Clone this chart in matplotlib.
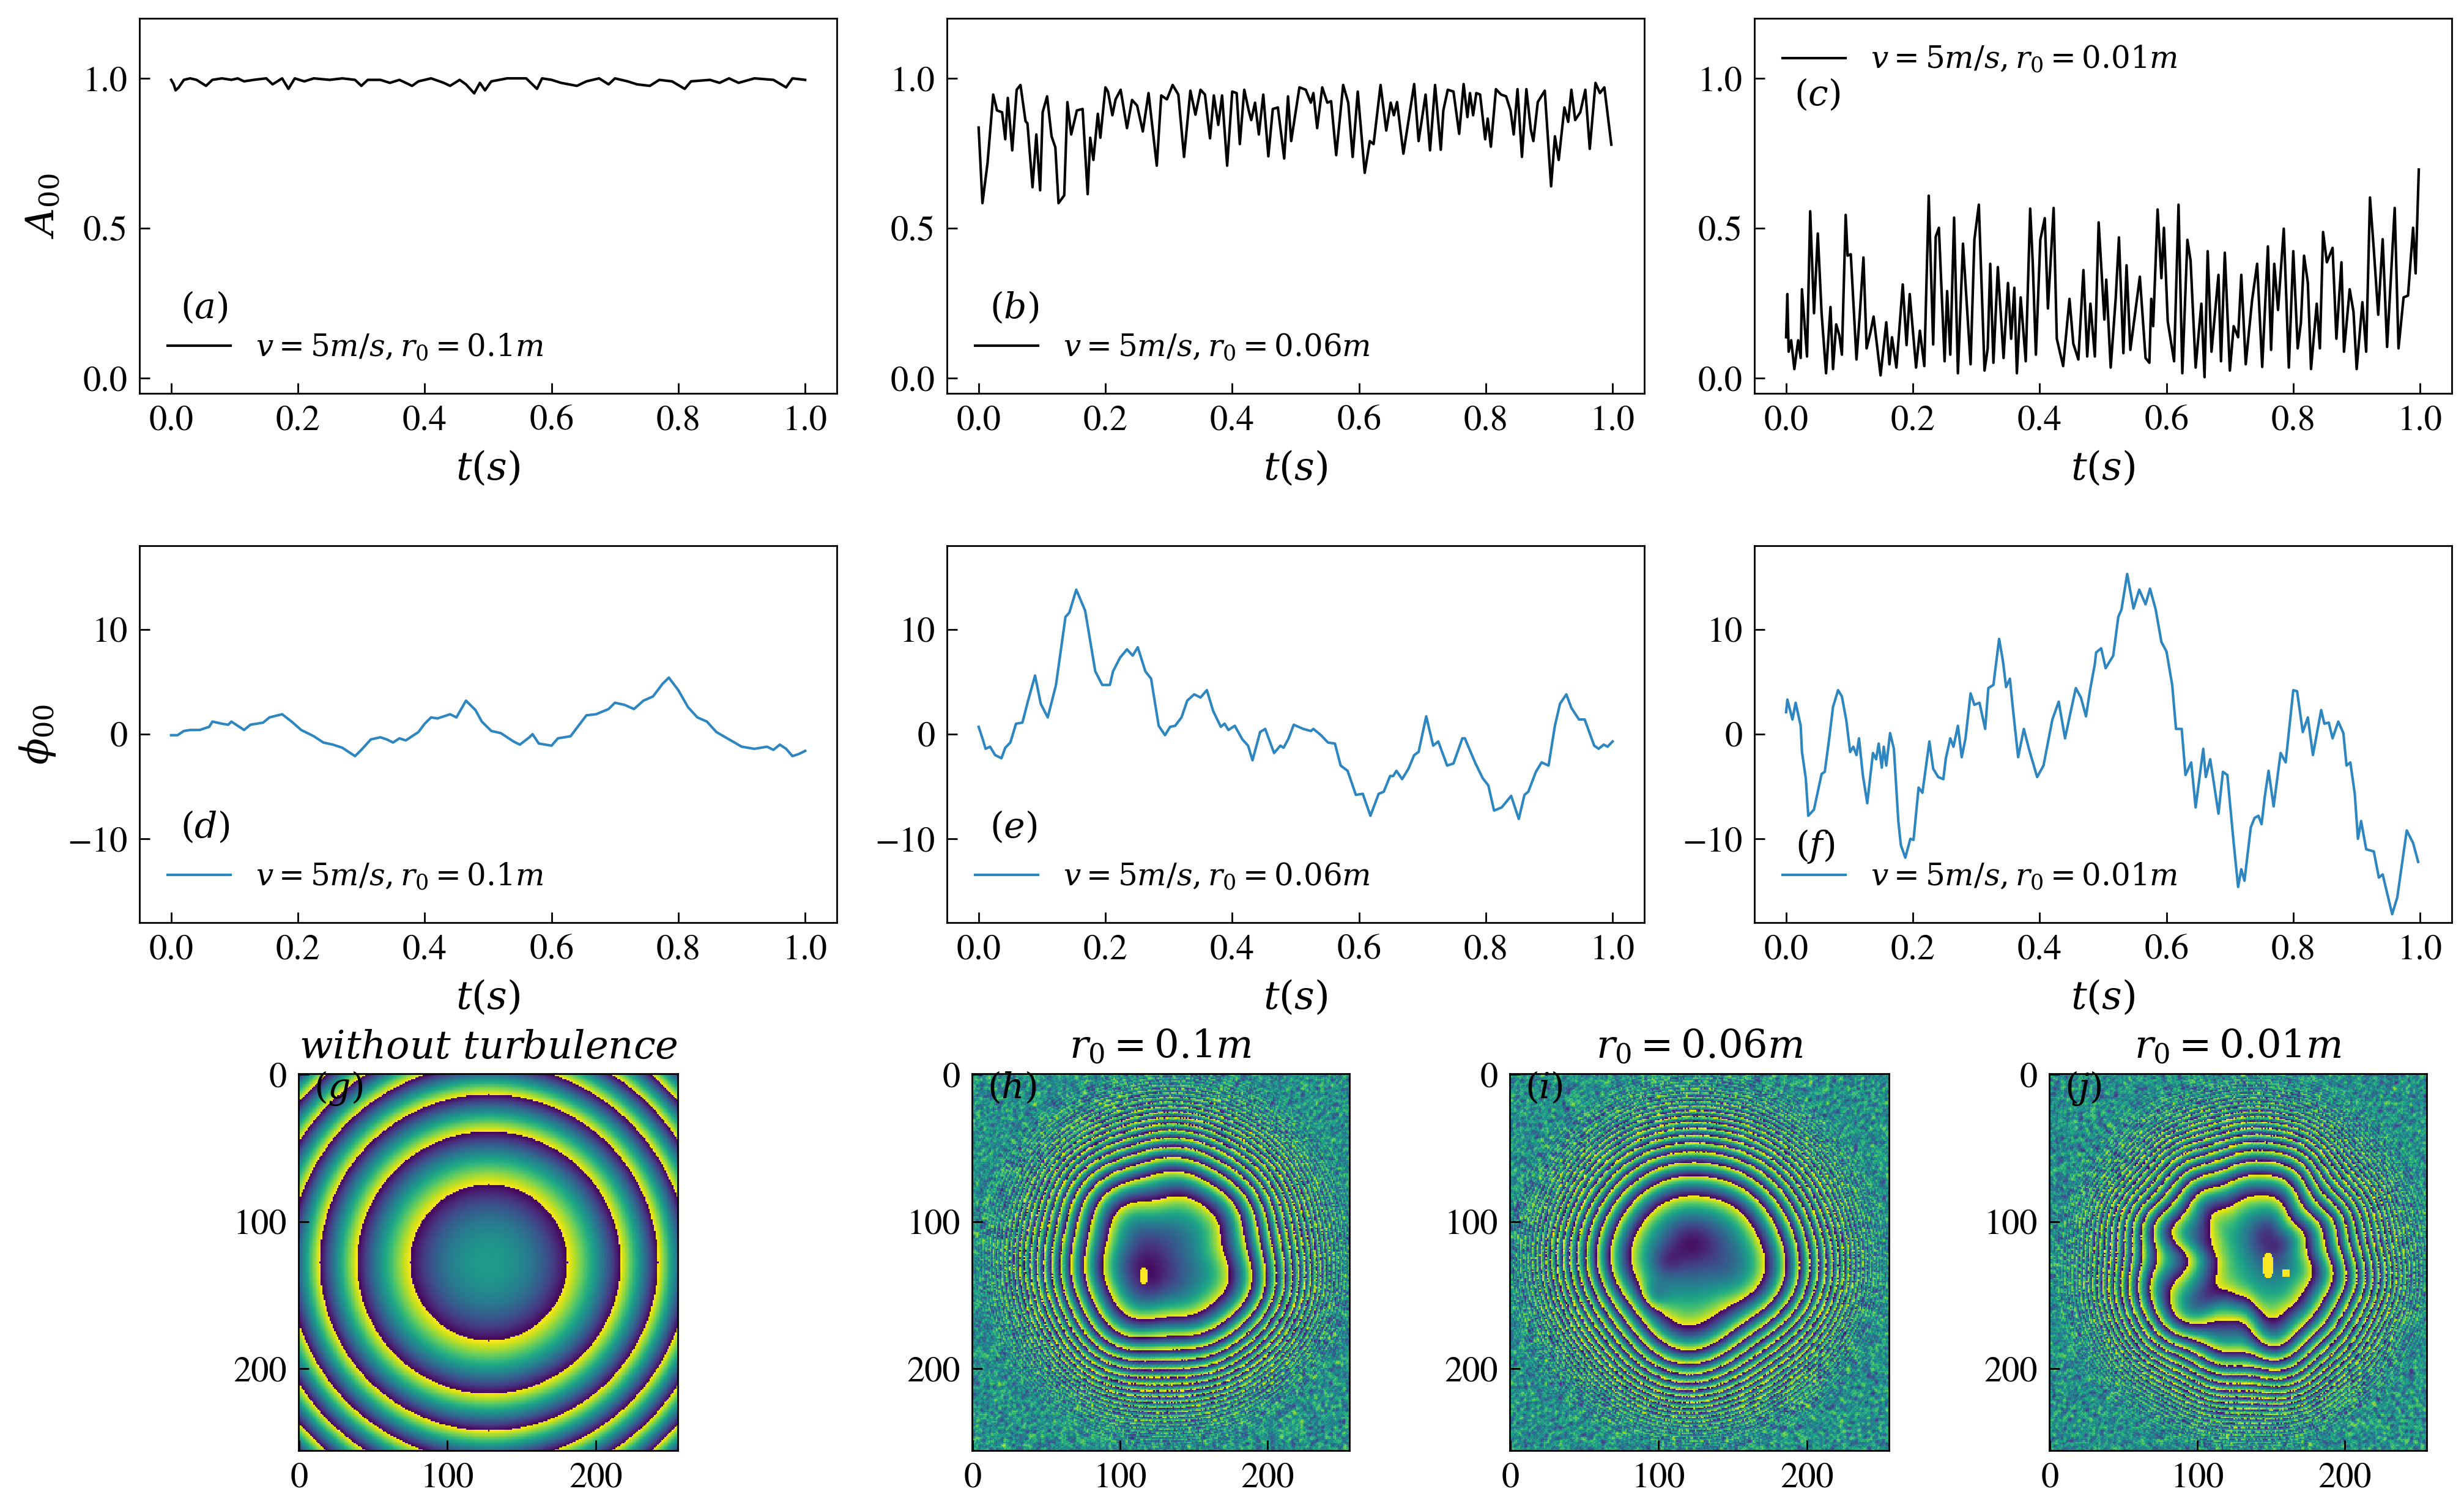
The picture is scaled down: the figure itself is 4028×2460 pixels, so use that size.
import matplotlib
matplotlib.use("Agg")
import matplotlib.pyplot as plt
import numpy as np

plt.rcParams['font.family'] = ['STIXGeneral', 'DejaVu Serif']
plt.rcParams['mathtext.fontset'] = 'dejavuserif'

# values, one (t, y) list per panel
t_a = [0, .004, .007, .012, .02, .03, .04, .055, .065, .08, .095, .105, .115, .13, .15, .16, .175, .185, .195, .21, .225, .25, .27, .29, .3, .31, .33, .345, .36, .38, .39, .41, .43, .44, .455, .465, .478, .487, .495, .505, .53, .56, .577, .585, .6, .615, .64, .655, .675, .69, .7, .72, .735, .755, .77, .79, .81, .82, .85, .865, .88, .895, .92, .95, .97, .98, 1.0]
y_a = [.995, .98, .96, .97, .995, 1.0, .995, .975, .995, 1.0, .995, 1.0, .99, .995, 1.0, .98, 1.0, .965, 1.0, .99, 1.0, .995, 1.0, .995, .975, .995, .995, .985, .995, .975, .99, 1.0, .985, .975, .995, .98, .95, .985, .96, .99, 1.0, 1.0, .965, 1.0, .995, .985, .975, .99, 1.0, .98, 1.0, .99, .98, .975, .995, .99, .965, .99, .995, .985, 1.0, .985, 1.0, .995, .97, 1.0, .995]

t_b = [0, .006, .014, .023, .029, .037, .042, .046, .053, .06, .066, .074, .077, .085, .091, .097, .101, .108, .115, .121, .126, .135, .14, .146, .155, .164, .172, .176, .181, .188, .192, .2, .204, .211, .216, .224, .234, .242, .25, .259, .268, .281, .288, .297, .306, .315, .324, .334, .342, .35, .357, .365, .371, .378, .384, .392, .4, .407, .412, .419, .426, .43, .436, .442, .449, .457, .464, .472, .482, .488, .493, .506, .516, .524, .528, .534, .542, .55, .556, .564, .575, .583, .59, .598, .609, .617, .623, .634, .643, .65, .655, .66, .67, .687, .694, .705, .712, .72, .729, .733, .74, .749, .758, .765, .771, .775, .78, .785, .791, .799, .803, .808, .816, .824, .832, .839, .844, .85, .857, .864, .871, .875, .882, .893, .903, .909, .915, .924, .93, .935, .941, .949, .957, .964, .973, .98, .987, .998]
y_b = [.836, .584, .717, .946, .893, .887, .797, .935, .76, .962, .978, .857, .85, .637, .813, .627, .887, .94, .807, .77, .584, .61, .921, .813, .893, .898, .614, .802, .728, .882, .802, .97, .956, .877, .93, .962, .834, .928, .909, .823, .951, .709, .943, .93, .978, .946, .738, .959, .879, .962, .946, .8, .943, .845, .943, .709, .956, .951, .781, .962, .893, .861, .919, .813, .946, .74, .898, .903, .733, .94, .791, .97, .962, .919, .951, .834, .97, .919, .924, .744, .978, .919, .738, .956, .685, .791, .781, .978, .826, .919, .877, .921, .749, .981, .791, .946, .76, .978, .762, .893, .962, .956, .815, .981, .871, .951, .877, .951, .946, .797, .866, .772, .964, .946, .94, .893, .813, .964, .738, .964, .829, .791, .921, .959, .64, .807, .728, .903, .855, .962, .861, .887, .962, .765, .985, .951, .97, .779]

t_c = [0, .002, .004, .008, .013, .019, .023, .025, .033, .038, .044, .05, .056, .063, .07, .074, .079, .084, .088, .094, .097, .102, .111, .116, .122, .127, .133, .138, .149, .158, .163, .167, .174, .184, .19, .195, .205, .211, .218, .225, .232, .236, .241, .25, .254, .259, .265, .271, .279, .291, .297, .304, .313, .318, .322, .327, .334, .343, .35, .355, .36, .364, .37, .378, .385, .389, .394, .401, .408, .413, .422, .427, .437, .447, .453, .461, .469, .475, .48, .487, .493, .502, .505, .512, .52, .525, .532, .537, .543, .558, .567, .573, .576, .579, .586, .592, .596, .602, .612, .619, .625, .633, .638, .646, .655, .66, .665, .671, .682, .686, .692, .7, .706, .713, .718, .725, .735, .743, .751, .76, .765, .77, .776, .785, .793, .8, .807, .812, .817, .823, .828, .837, .842, .847, .853, .862, .868, .876, .88, .889, .895, .9, .909, .915, .921, .927, .934, .941, .948, .96, .966, .974, .981, .989, .993, .998]
y_c = [.137, .281, .089, .127, .031, .127, .068, .297, .073, .557, .217, .483, .217, .017, .238, .031, .18, .143, .079, .545, .409, .414, .063, .206, .403, .1, .153, .206, .01, .187, .047, .137, .036, .313, .111, .281, .036, .159, .041, .609, .113, .472, .502, .057, .291, .079, .536, .017, .449, .047, .462, .579, .026, .1, .382, .052, .371, .068, .318, .132, .302, .017, .27, .057, .566, .387, .079, .462, .534, .233, .568, .132, .041, .265, .116, .063, .361, .073, .249, .073, .52, .196, .329, .036, .27, .47, .084, .377, .095, .339, .068, .052, .265, .174, .563, .334, .502, .19, .057, .579, .017, .462, .393, .036, .249, .004, .424, .089, .345, .057, .419, .026, .174, .137, .345, .047, .26, .382, .038, .44, .095, .382, .228, .499, .036, .424, .1, .185, .409, .318, .031, .249, .1, .488, .387, .435, .132, .387, .089, .297, .222, .031, .254, .089, .603, .43, .212, .464, .105, .568, .1, .27, .276, .502, .35, .696]

t_d = [0, .01, .02, .03, .045, .06, .065, .08, .09, .095, .11, .115, .125, .145, .155, .175, .19, .205, .225, .24, .255, .27, .29, .3, .315, .33, .34, .35, .36, .37, .39, .4, .41, .42, .44, .45, .465, .48, .49, .505, .52, .54, .55, .565, .57, .58, .6, .61, .63, .645, .655, .67, .69, .7, .715, .73, .745, .76, .775, .785, .8, .815, .83, .845, .86, .88, .9, .92, .94, .95, .96, .97, .98, .99, 1.0]
y_d = [-.1, -.1, .3, .4, .4, .7, 1.2, 1.0, .9, 1.2, .6, .4, .9, 1.1, 1.6, 1.9, 1.2, .4, -.2, -.8, -1, -1.3, -2.1, -1.5, -.5, -.3, -.5, -.8, -.4, -.6, .2, 1, 1.6, 1.5, 1.9, 1.6, 3.2, 2.3, 1.2, .3, .1, -.7, -1.0, -.3, 0, -.9, -1.1, -.4, -.2, 1, 1.8, 1.9, 2.4, 3, 2.8, 2.4, 3.2, 3.6, 4.8, 5.4, 4.2, 2.6, 1.6, 1.2, .2, -.5, -1.2, -1.4, -1.2, -1.5, -1.0, -1.4, -2.1, -1.9, -1.6]

t_e = [0, .006, .011, .018, .026, .036, .042, .05, .059, .069, .078, .089, .098, .109, .122, .137, .143, .154, .168, .184, .195, .207, .212, .223, .234, .243, .251, .263, .272, .284, .294, .302, .31, .32, .329, .34, .35, .36, .37, .382, .388, .394, .404, .416, .425, .432, .444, .452, .466, .476, .481, .489, .497, .512, .524, .528, .54, .551, .562, .571, .582, .595, .606, .618, .631, .639, .649, .654, .659, .668, .678, .687, .694, .706, .717, .725, .739, .749, .763, .767, .783, .795, .804, .813, .825, .84, .852, .861, .867, .879, .888, .899, .909, .917, .927, .935, .947, .956, .971, .978, .986, .992, 1.0]
y_e = [.7, -.4, -1.4, -1.2, -2, -2.3, -1.3, -.8, 1, 1.1, 3.2, 5.6, 2.9, 1.6, 4.7, 11.2, 11.6, 13.8, 11.8, 6, 4.7, 4.7, 6, 7.3, 8.1, 7.5, 8.3, 6, 5.3, .8, -.1, .7, .8, 1.6, 3.2, 3.8, 3.5, 4.2, 2.2, .7, 1, .4, .8, -.5, -1.1, -2.5, .2, .5, -1.8, -1.1, -1.3, -.4, .9, .5, .3, .5, -.1, -.8, -.9, -3, -3.5, -5.8, -5.7, -7.8, -5.7, -5.5, -4, -4, -3.5, -4.3, -3.3, -2, -1.7, 1.7, -1.1, -.7, -3, -2.8, -.4, -.4, -2.7, -4.2, -4.9, -7.3, -7, -5.9, -8.1, -5.8, -5.5, -3.6, -2.7, -3, .8, 2.9, 3.8, 2.5, 1.4, 1.4, -1.1, -1.4, -1, -1.2, -.7]

t_f = [0, .002, .01, .015, .023, .025, .031, .035, .044, .056, .061, .068, .074, .082, .088, .095, .101, .106, .111, .115, .121, .128, .137, .142, .146, .151, .154, .158, .164, .17, .177, .181, .188, .196, .201, .209, .215, .226, .232, .24, .248, .252, .259, .264, .271, .277, .283, .291, .297, .305, .314, .319, .327, .336, .342, .347, .353, .358, .366, .375, .383, .396, .406, .42, .43, .44, .448, .457, .465, .473, .48, .487, .489, .497, .504, .516, .524, .529, .538, .548, .557, .567, .574, .583, .592, .6, .609, .615, .624, .63, .639, .646, .658, .662, .669, .682, .689, .696, .706, .713, .718, .723, .733, .739, .745, .75, .755, .761, .769, .78, .788, .8, .806, .815, .823, .831, .844, .849, .856, .862, .871, .879, .884, .89, .897, .902, .907, .915, .927, .935, .941, .956, .964, .979, .989, .997]
y_f = [2.1, 3.3, 1.4, 3, .8, -1.7, -4.2, -7.8, -7.2, -3.8, -3.6, -.4, 2.6, 4.2, 3.6, 1.3, -1.7, -1.2, -2, -.4, -3.9, -6.6, -1.8, -2.4, -.9, -3.2, -1.2, -3, .1, -1.4, -8.3, -10.6, -11.8, -10, -10.1, -5.1, -5.6, -.7, -3.3, -4.1, -4.3, -2.3, -.4, -1.2, .8, -2.2, -.4, 3.9, 2.8, 3, .5, 4.4, 4.7, 9.1, 7, 4.5, 5.3, 2.3, -2.2, .5, -1.4, -4.1, -3, 1.4, 3.1, -.4, 1.9, 4.4, 3.5, 1.7, 4.4, 6.7, 7.8, 8.2, 6.3, 7.5, 11.2, 11.9, 15.3, 12, 13.8, 12.4, 13.9, 11.9, 8.8, 7.9, 4.7, .5, .5, -3.9, -2.7, -7, -1.4, -4.1, -2.4, -7.6, -3.6, -3.9, -10.4, -14.6, -12.9, -14, -8.9, -8, -7.8, -8.6, -6, -3.5, -6.9, -1.8, -2.7, 4.2, 4.1, .2, 1.6, -2, 2.3, 1, 1.1, -.4, 1.2, .1, -3, -2.7, -5.7, -10, -8.3, -11, -11.2, -13.7, -13.4, -17.2, -15.6, -9.2, -10.4, -12.2]

line_labels = [r'$v=5m/s,r_0=0.1m$', r'$v=5m/s,r_0=0.06m$', r'$v=5m/s,r_0=0.01m$']
x_ticks = [0.0, 0.2, 0.4, 0.6, 0.8, 1.0]
amp_ticks = [0.0, 0.5, 1.0]
phase_ticks = [-10, 0, 10]
img_ticks = [0, 100, 200]
img_titles = [r'$without\ turbulence$', r'$r_0=0.1m$', r'$r_0=0.06m$', r'$r_0=0.01m$']
img_tags = ['$(g)$', '$(h)$', '$(i)$', '$(j)$']

# ring radii of the clean beam (panel g), read along the axes
ring_radii = [53, 89, 114]
# panel h, i, j: beam centre, (harmonic, size, angle) of the wobble, (x, y, height, width) of the phase bumps,
# (x, y, rx, ry) of the saturated spots
centre_h = (132, 124)
wobble_h = [(4, .05, .5), (3, .04, 2.0), (7, .025, 1.0)]
bumps_h = [(115, 136, -.25, 17), (160, 120, .2, 20), (128, 85, .2, 12)]
spots_h = [(116, 137, 3, 6)]
centre_i = (126, 126)
wobble_i = [(4, .05, 2.5), (3, .05, 4.0), (5, .03, 1.0)]
bumps_i = [(122, 115, -.2, 12), (105, 128, -.15, 7), (97, 150, -.35, 7), (125, 155, .25, 16)]
spots_i = []
centre_j = (133, 128)
wobble_j = [(3, .06, 1.0), (5, .05, 3.0), (8, .03, 0.5), (11, .025, 2.0)]
bumps_j = [(125, 125, .33, 25), (152, 112, -.42, 13), (92, 130, 1.0, 16), (125, 168, 1.0, 14)]
spots_j = [(148, 130, 4, 9), (160, 135, 3, 3)]
# fixed fine waves (x rate, y rate, angle) that break up the outer rings
fine_waves = [(.93, 1.37, .4), (2.11, .71, 1.9), (1.63, 2.47, 3.1), (2.83, 1.19, 5.0), (.57, 2.89, 2.2)]


def ring_image(radii):
    # wrapped phase of the clean beam, falls off in r**2
    yy, xx = np.mgrid[0:256, 0:256]
    r2 = (xx - 128.0) ** 2 + (yy - 128.0) ** 2
    period = (radii[2] ** 2 - radii[0] ** 2) / 2.0
    return np.mod(radii[0] ** 2 / period - r2 / period, 1.0)


def beam_image(centre, wobble, bumps, spots):
    # wrapped phase with fast outer rings, these alias on the 256 grid like in the reference
    yy, xx = np.mgrid[0:256, 0:256].astype(float)
    dx = xx - centre[0]
    dy = yy - centre[1]
    r = np.hypot(dx, dy)
    th = np.arctan2(dy, dx)
    w = np.zeros_like(r)
    for n, a, p in wobble:
        w = w + a * np.cos(n * th + p)
    w = 1 + w * np.exp(-(r / 85.0) ** 2)
    phi = .22 + 3.2 * (r * w / 70.0) ** 3.0
    for x0, y0, h, s in bumps:
        phi = phi + h * np.exp(-((xx - x0) ** 2 + (yy - y0) ** 2) / (2 * s ** 2))
    fine = np.zeros_like(r)
    for fx, fy, p in fine_waves:
        fine = fine + np.sin(fx * xx + fy * yy + p + .002 * xx * yy)
    phi = phi + .1 * fine * np.clip((r - 60) / 70.0, 0, 1)
    img = np.mod(phi, 1.0)
    # the reference is soft far from the centre, so smooth only out there
    soft = img.copy()
    for ax_n in (0, 1):
        soft = .25 * np.roll(soft, 1, ax_n) + .5 * soft + .25 * np.roll(soft, -1, ax_n)
    m = .8 * np.clip((r - 95) / 40.0, 0, 1)
    out = img * (1 - m) + soft * m
    for x0, y0, rx, ry in spots:
        out[((xx - x0) / rx) ** 2 + ((yy - y0) / ry) ** 2 < 1] = 1.0
    return out


W, H = 4028.0, 2460.0


def box(l, t, r, b):
    return [l / W, 1 - b / H, (r - l) / W, (b - t) / H]


fig = plt.figure(figsize=(W / 200, H / 200), dpi=200)

cols = [(228, 1368), (1548, 2688), (2868, 4008)]
amp_series = [(t_a, y_a), (t_b, y_b), (t_c, y_c)]
phase_series = [(t_d, y_d), (t_e, y_e), (t_f, y_f)]
amp_tags = [('$(a)$', .015, .2), ('$(b)$', .018, .2), ('$(c)$', .013, .91)]
phase_tags = [('$(d)$', .015, -9.9), ('$(e)$', .018, -9.9), ('$(f)$', .015, -11.7)]


def style_ax(ax):
    ax.tick_params(direction='in', length=6, width=1, labelsize=21, top=False, right=False, pad=7)
    for s in ax.spines.values():
        s.set_linewidth(1)


def line_panel(col, top, bottom, series, tag, label, color, ylim, yticks, legend_loc):
    ax = fig.add_axes(box(col[0], top, col[1], bottom))
    ax.plot(series[0], series[1], color=color, lw=1.5, label=label)
    ax.set_xlim(-0.05, 1.05)
    ax.set_ylim(*ylim)
    ax.set_xticks(x_ticks)
    ax.set_yticks(yticks)
    style_ax(ax)
    ax.set_xlabel('$t(s)$', fontsize=23, labelpad=7)
    ax.text(tag[1], tag[2], tag[0], fontsize=21)
    ax.legend(frameon=False, fontsize=18, loc=legend_loc[0], bbox_to_anchor=legend_loc[1], borderaxespad=0,
              borderpad=0, handlelength=2.06, handletextpad=.82)
    return ax


for i in range(3):
    leg = ('lower left', (.04, .08))
    if i == 2:
        leg = ('upper left', (.04, .93))
    ax = line_panel(cols[i], 30, 643, amp_series[i], amp_tags[i], line_labels[i], 'black', (-0.05, 1.2), amp_ticks, leg)
    ax.set_yticklabels(['0.0', '0.5', '1.0'])
    if i == 0:
        ax.set_ylabel('$A_{00}$', fontsize=23, labelpad=12)
    ax = line_panel(cols[i], 892, 1508, phase_series[i], phase_tags[i], line_labels[i], '#2e86c1', (-18, 18), phase_ticks, ('lower left', (.04, .08)))
    ax.set_yticklabels(['\u221210', '0', '10'])
    if i == 0:
        ax.set_ylabel(r'$\phi_{00}$', fontsize=23, labelpad=6)

images = [ring_image(ring_radii),
          beam_image(centre_h, wobble_h, bumps_h, spots_h),
          beam_image(centre_i, wobble_i, bumps_i, spots_i),
          beam_image(centre_j, wobble_j, bumps_j, spots_j)]
img_cols = [(488, 1108), (1589, 2206), (2468, 3088), (3350, 3967)]
for i in range(4):
    ax = fig.add_axes(box(img_cols[i][0], 1755, img_cols[i][1], 2371))
    ax.imshow(images[i], cmap='viridis', vmin=0, vmax=1, interpolation='nearest', aspect='auto')
    ax.set_xticks(img_ticks)
    ax.set_yticks(img_ticks)
    style_ax(ax)
    ax.set_title(img_titles[i], fontsize=23, pad=9)
    ax.text(10, 16, img_tags[i], fontsize=21)

fig.savefig('out.png', dpi=200)
